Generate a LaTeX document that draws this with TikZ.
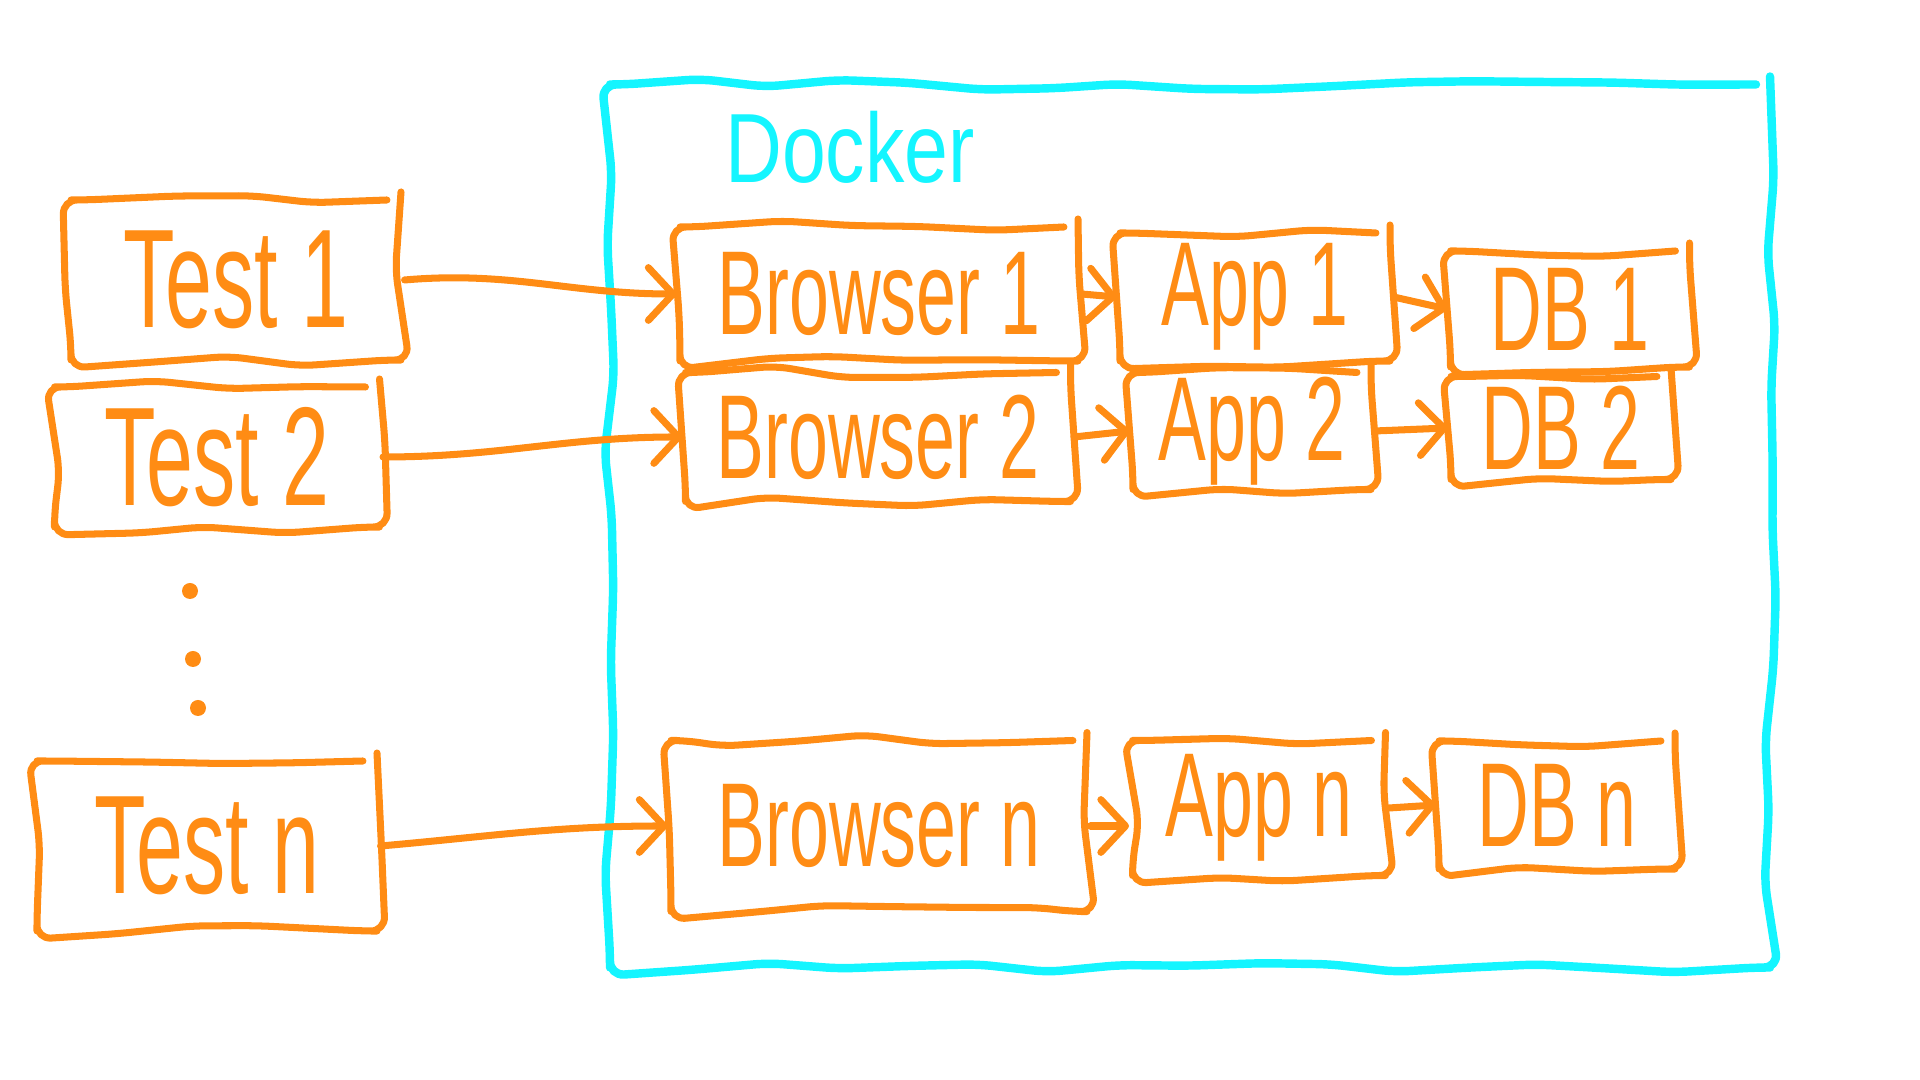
\documentclass[tikz,border=0pt]{standalone}
\usepackage{fontspec}
\setmainfont{Liberation Sans}
\newfontfamily\handfont[FakeStretch=0.6]{Liberation Sans}
\newfontfamily\dockerfont[FakeStretch=0.8]{Liberation Sans}
\usetikzlibrary{arrows.meta,decorations.pathmorphing}
\definecolor{penorange}{RGB}{255,140,20}
\definecolor{pencyan}{RGB}{20,245,255}

\begin{document}
\begin{tikzpicture}
\newcommand{\penwidth}{2pt}
\newcommand{\testsize}{\fontsize{40}{44}\selectfont}
\newcommand{\boxsize}{\fontsize{34}{38}\selectfont}
\newcommand{\vdot}{\node[circle, fill=penorange, inner sep=0pt, minimum size=0.16cm]}

\tikzset{sketch/.style={draw=#1, line width=\penwidth, line cap=round, line join=round, rounded corners=4pt,
    decorate, decoration={random steps, segment length=20pt, amplitude=1.8pt}},
  hand/.style={sketch=penorange, text=penorange, inner sep=0pt, font=\handfont\boxsize},
  flow/.style={draw=penorange, line width=\penwidth, line cap=round,
    -{Straight Barb[round, length=7pt, width=15pt]}}}
\pgfmathsetseed{11}
\useasboundingbox (0,0) rectangle (19.2,10.8);

    % docker frame
    \node[sketch=pencyan, line width=2.4pt, minimum width=11.6cm, minimum height=8.83cm] (docker) at (11.9,5.54) {};
    \node[text=pencyan, font=\dockerfont\fontsize{28}{32}\selectfont] (dockerlabel) at (8.5,9.33) {Docker};

    % tests
    \node[hand, font=\handfont\testsize, minimum width=3.3cm, minimum height=1.6cm] (t1) at (2.36,8.0) {Test 1};
    \node[hand, font=\handfont\testsize, minimum width=3.25cm, minimum height=1.4cm] (t2) at (2.17,6.23) {Test 2};
    \node[hand, font=\handfont\testsize, minimum width=3.4cm, minimum height=1.7cm] (tn) at (2.07,2.34) {Test n};
    \vdot (v1) at (1.9,4.89) {};
    \vdot (v2) at (1.93,4.21) {};
    \vdot (v3) at (1.98,3.72) {};

    % browsers
    \node[hand, minimum width=3.98cm, minimum height=1.34cm] (b1) at (8.79,7.86) {Browser 1};
    \node[hand, minimum width=3.85cm, minimum height=1.29cm] (b2) at (8.78,6.43) {Browser 2};
    \node[hand, minimum width=4.16cm, minimum height=1.71cm] (bn) at (8.79,2.54) {Browser n};

    % apps
    \node[hand, minimum width=2.7cm, minimum height=1.28cm] (a1) at (12.55,7.83) {App 1};
    \node[hand, minimum width=2.38cm, minimum height=1.17cm] (a2) at (12.52,6.49) {App 2};
    \node[hand, minimum width=2.53cm, minimum height=1.35cm] (an) at (12.59,2.72) {App n};

    % databases
    \node[hand, minimum width=2.39cm, minimum height=1.16cm] (d1) at (15.7,7.71) {DB 1};
    \node[hand, minimum width=2.2cm, minimum height=1.03cm] (d2) at (15.61,6.52) {DB 2};
    \node[hand, minimum width=2.36cm, minimum height=1.28cm] (dn) at (15.57,2.75) {DB n};

    \draw[flow] (t1.east) to[out=5,in=180] (b1.west);
    \draw[flow] (t2.east) to[out=0,in=180] (b2.west);
    \draw[flow] (tn.east) to[out=5,in=180] (bn.west);
    \draw[flow] (b1.east) -- (a1.west);
    \draw[flow] (b2.east) -- (a2.west);
    \draw[flow] (bn.east) -- (bn.east -| an.west);
    \draw[flow] (a1.east) -- (d1.west);
    \draw[flow] (a2.east) -- (d2.west);
    \draw[flow] (an.east) -- (dn.west);
\end{tikzpicture}
\end{document}
